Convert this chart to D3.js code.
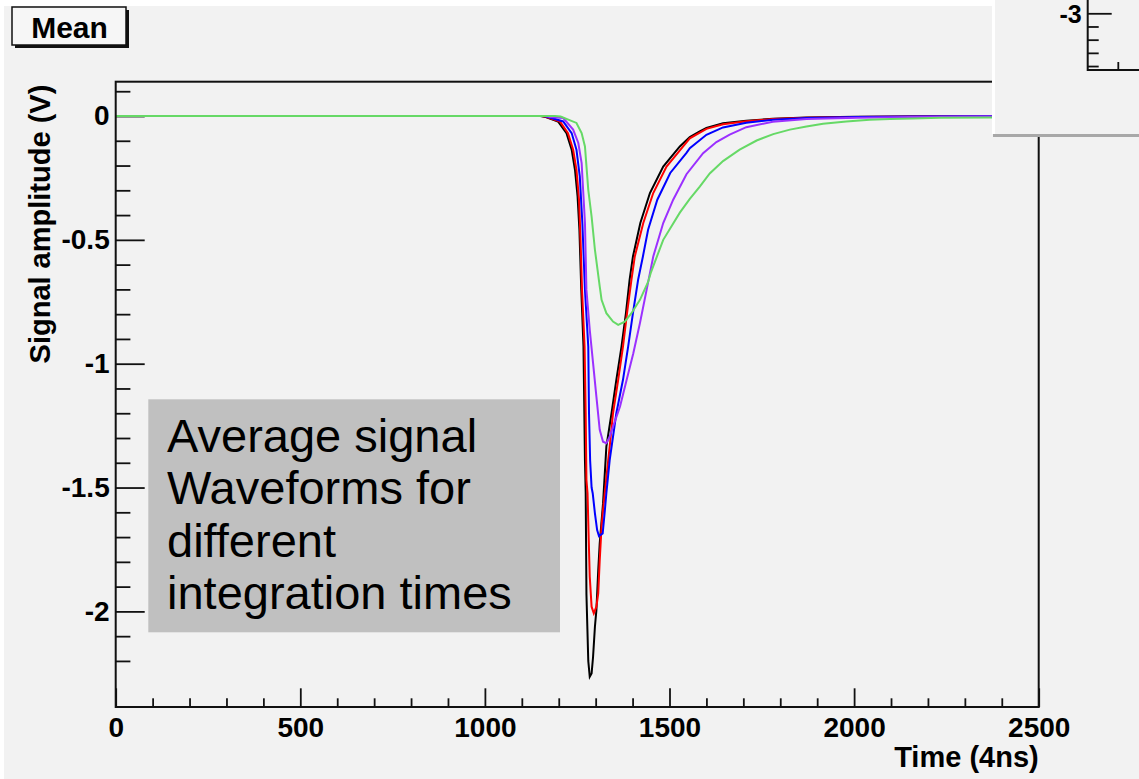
<!DOCTYPE html>
<html>
<head>
<meta charset="utf-8">
<script src="https://cdn.jsdelivr.net/npm/d3@7"></script>
<style>
  html, body { margin: 0; padding: 0; background: #ffffff; }
  svg { display: block; }
  text { font-family: "Liberation Sans", Arial, Helvetica, sans-serif; }
</style>
</head>
<body>
<div id="chart"></div>
<script>
// waveforms, [time (4ns), amplitude (V)]
const blackWave = [[0,0],[1150,0],[1165,-0.004],[1198,-0.022],[1221,-0.069],[1235,-0.136],[1244,-0.217],[1251,-0.325],[1256,-0.46],[1261,-0.70],[1267,-0.93],[1271,-1.39],[1273,-1.52],[1275,-1.93],[1280,-2.20],[1284,-2.264],[1289,-2.251],[1293,-2.183],[1298,-2.062],[1302,-1.995],[1307,-1.833],[1311,-1.725],[1320,-1.564],[1329,-1.335],[1343,-1.200],[1356,-1.065],[1370,-0.931],[1382,-0.796],[1392,-0.661],[1401,-0.567],[1421,-0.432],[1447,-0.311],[1483,-0.204],[1528,-0.123],[1555,-0.085],[1582,-0.062],[1600,-0.048],[1645,-0.029],[1708,-0.019],[1780,-0.011],[1871,-0.006],[2006,-0.003],[2150,-0.002],[2500,0]];
const redWave = [[0,0],[1155,0],[1167,-0.004],[1203,-0.022],[1225,-0.069],[1239,-0.136],[1248,-0.217],[1255,-0.338],[1259,-0.50],[1263,-0.70],[1270,-0.931],[1273,-1.20],[1275,-1.469],[1278,-1.523],[1281,-1.699],[1284,-1.860],[1289,-1.981],[1295,-2.008],[1302,-1.981],[1307,-1.927],[1311,-1.793],[1316,-1.658],[1320,-1.591],[1334,-1.389],[1338,-1.335],[1347,-1.200],[1361,-1.065],[1374,-0.931],[1385,-0.796],[1397,-0.661],[1406,-0.567],[1429,-0.432],[1456,-0.311],[1492,-0.204],[1537,-0.123],[1555,-0.090],[1600,-0.052],[1645,-0.033],[1708,-0.021],[1780,-0.012],[1871,-0.007],[2006,-0.004],[2150,-0.002],[2500,0]];
const blueWave = [[0,0],[1160,0],[1171,-0.004],[1212,-0.022],[1235,-0.069],[1248,-0.136],[1257,-0.244],[1264,-0.432],[1271,-0.702],[1280,-0.931],[1282,-1.20],[1285,-1.39],[1289,-1.50],[1292,-1.523],[1298,-1.604],[1304,-1.672],[1309,-1.696],[1319,-1.685],[1325,-1.591],[1329,-1.523],[1338,-1.389],[1356,-1.200],[1374,-1.065],[1388,-0.931],[1401,-0.796],[1415,-0.661],[1428,-0.567],[1442,-0.459],[1467,-0.338],[1502,-0.230],[1546,-0.149],[1555,-0.130],[1600,-0.076],[1645,-0.046],[1708,-0.027],[1780,-0.015],[1871,-0.008],[2006,-0.004],[2150,-0.002],[2500,0]];
const purpleWave = [[0,0],[1165,0],[1176,-0.004],[1212,-0.008],[1239,-0.055],[1253,-0.109],[1262,-0.190],[1266,-0.298],[1271,-0.432],[1275,-0.702],[1284,-0.863],[1293,-0.998],[1302,-1.133],[1311,-1.267],[1320,-1.315],[1329,-1.321],[1338,-1.295],[1347,-1.254],[1366,-1.173],[1384,-1.065],[1402,-0.958],[1420,-0.836],[1438,-0.702],[1456,-0.567],[1483,-0.432],[1510,-0.338],[1546,-0.235],[1591,-0.150],[1627,-0.105],[1663,-0.075],[1708,-0.045],[1780,-0.023],[1871,-0.012],[2006,-0.007],[2150,-0.004],[2300,-0.002],[2500,0]];
const greenWave = [[0,0],[1190,0],[1205,-0.002],[1248,-0.028],[1262,-0.069],[1271,-0.123],[1280,-0.298],[1289,-0.406],[1298,-0.540],[1311,-0.688],[1316,-0.742],[1329,-0.796],[1347,-0.830],[1361,-0.843],[1379,-0.830],[1397,-0.796],[1420,-0.742],[1442,-0.670],[1450,-0.630],[1483,-0.500],[1528,-0.390],[1555,-0.335],[1582,-0.285],[1609,-0.232],[1645,-0.182],[1690,-0.136],[1736,-0.099],[1781,-0.073],[1826,-0.055],[1871,-0.042],[1916,-0.031],[1979,-0.022],[2042,-0.015],[2097,-0.012],[2160,-0.010],[2232,-0.007],[2367,-0.006],[2500,-0.006]];

const waves = [
  {data: blackWave, color: "#000000"},
  {data: redWave, color: "#ff0000"},
  {data: blueWave, color: "#0000ff"},
  {data: purpleWave, color: "#9b30ff"},
  {data: greenWave, color: "#66d966"}
];

const xMajor = [0, 500, 1000, 1500, 2000, 2500];
const yMajor = [0, -0.5, -1, -1.5, -2];
const noteLines = ["Average signal", "Waveforms for", "different", "integration times"];

const width = 1139, height = 779;
const bg = "#f2f2f2";

const svg = d3.select("#chart").append("svg")
  .attr("width", width)
  .attr("height", height);

svg.append("rect").attr("x", 4).attr("y", 6)
  .attr("width", width - 4).attr("height", height - 6)
  .attr("fill", bg);

// scales
const x = d3.scaleLinear().domain([0, 2500]).range([115.7, 1038.7]);
const y = d3.scaleLinear().domain([-2.386, 0.1385]).range([707, 81.7]);

// minor ticks
const xMinor = d3.range(0, 2501, 100).filter(d => d % 500 !== 0);
const yMinor = d3.range(1, 24).map(i => +(0.1 - i * 0.1).toFixed(1)).concat([0.1]).filter(d => !yMajor.includes(d));

svg.append("g")
  .attr("transform", `translate(0,${y.range()[0]})`)
  .call(d3.axisBottom(x).tickValues(xMinor).tickSizeInner(-8.7).tickSizeOuter(0).tickFormat(""))
  .call(g => g.select(".domain").remove());

svg.append("g")
  .attr("transform", `translate(0,${y.range()[0]})`)
  .call(d3.axisBottom(x).tickValues(xMajor).tickSizeInner(-18.7).tickSizeOuter(0).tickPadding(10).tickFormat(d => String(d)))
  .call(g => g.select(".domain").remove())
  .call(g => g.selectAll("text").attr("font-size", 28).attr("font-weight", "bold").attr("fill", "#000"));

svg.append("g")
  .attr("transform", `translate(${x.range()[0]},0)`)
  .call(d3.axisLeft(y).tickValues(yMinor).tickSizeInner(-14.7).tickSizeOuter(0).tickFormat(""))
  .call(g => g.select(".domain").remove());

svg.append("g")
  .attr("transform", `translate(${x.range()[0]},0)`)
  .call(d3.axisLeft(y).tickValues(yMajor).tickSizeInner(-29).tickSizeOuter(0).tickPadding(6).tickFormat(d => String(d)))
  .call(g => g.select(".domain").remove())
  .call(g => g.selectAll("text").attr("font-size", 28).attr("font-weight", "bold").attr("fill", "#000"));

svg.selectAll(".tick line").attr("stroke", "#111").attr("stroke-width", 1.8);

// waveforms
const line = d3.line().x(d => x(d[0])).y(d => y(d[1]));
svg.append("g").selectAll("path")
  .data(waves)
  .join("path")
  .attr("d", d => line(d.data))
  .attr("fill", "none")
  .attr("stroke", d => d.color)
  .attr("stroke-width", 2);

// frame
svg.append("rect")
  .attr("x", x.range()[0]).attr("y", y.range()[1])
  .attr("width", x.range()[1] - x.range()[0])
  .attr("height", y.range()[0] - y.range()[1])
  .attr("fill", "none").attr("stroke", "#111").attr("stroke-width", 2);

// axis titles
svg.append("text")
  .attr("x", x.range()[1]).attr("y", 766.7)
  .attr("text-anchor", "end")
  .attr("font-size", 29).attr("font-weight", "bold")
  .text("Time (4ns)");

svg.append("text")
  .attr("transform", `translate(50,${y.range()[1] + 3}) rotate(-90)`)
  .attr("text-anchor", "end")
  .attr("font-size", 29).attr("font-weight", "bold")
  .text("Signal amplitude (V)");

// "Mean" title box with shadow
svg.append("rect").attr("x", 15).attr("y", 10).attr("width", 114).attr("height", 38).attr("fill", "#111");
svg.append("rect").attr("x", 12).attr("y", 7).attr("width", 114).attr("height", 38)
  .attr("fill", "#f6f6f6").attr("stroke", "#111").attr("stroke-width", 1.5);
svg.append("text").attr("x", 69.5).attr("y", 38.3)
  .attr("text-anchor", "middle").attr("font-size", 30).attr("font-weight", "bold")
  .text("Mean");

// annotation box
svg.append("rect").attr("x", 148.3).attr("y", 399.3).attr("width", 411.7).attr("height", 233)
  .attr("fill", "#c0c0c0");
svg.append("g").selectAll("text")
  .data(noteLines)
  .join("text")
  .attr("x", 167)
  .attr("y", (d, i) => 452 + i * 52.3)
  .attr("font-size", 47)
  .attr("fill", "#000")
  .text(d => d);

// cropped inset from another plot in the top right corner
const inset = svg.append("g");
inset.append("rect").attr("x", 992).attr("y", 0).attr("width", 147).attr("height", 134).attr("fill", "#ffffff");
inset.append("rect").attr("x", 995).attr("y", 0).attr("width", 144).attr("height", 134).attr("fill", bg);
inset.append("rect").attr("x", 993).attr("y", 134).attr("width", 146).attr("height", 3).attr("fill", "#a8a8a8");
const yIn = d3.scaleLinear().domain([-3, -3.43]).range([13.3, 70]);
inset.append("g")
  .attr("transform", "translate(1087.7,0)")
  .call(d3.axisLeft(yIn).tickValues(d3.range(1, 5).map(i => -3 - i * 0.1)).tickSizeInner(-11).tickSizeOuter(0).tickFormat(""))
  .call(g => g.select(".domain").remove());
inset.append("g")
  .attr("transform", "translate(1087.7,0)")
  .call(d3.axisLeft(yIn).tickValues([-3]).tickSizeInner(-24).tickSizeOuter(0).tickPadding(6).tickFormat(d => String(d)))
  .call(g => g.select(".domain").remove())
  .call(g => g.selectAll("text").attr("font-size", 25).attr("font-weight", "bold").attr("fill", "#000")
    .attr("dy", null).attr("y", 9.4));
inset.selectAll(".tick line").attr("stroke", "#111").attr("stroke-width", 1.8);
inset.append("path").attr("d", "M1087.7,0V70H1139").attr("fill", "none").attr("stroke", "#111").attr("stroke-width", 2);
inset.append("path").attr("d", "M1118.3,70V62").attr("stroke", "#111").attr("stroke-width", 1.8);
</script>
</body>
</html>
